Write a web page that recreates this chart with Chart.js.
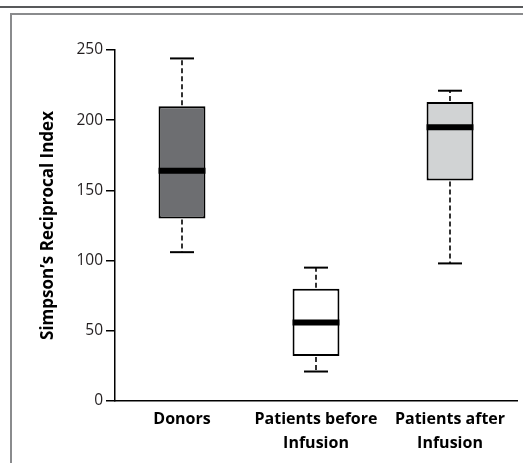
<!DOCTYPE html>
<html>
<head>
<meta charset="utf-8">
<script src="https://cdn.jsdelivr.net/npm/chart.js@4/dist/chart.umd.min.js"></script>
<style>
  html, body { margin: 0; padding: 0; background: #fff; }
  #wrap { position: relative; width: 523px; height: 463px; overflow: hidden; }
  #topline { position: absolute; left: 0; top: 6px; width: 523px; height: 2px; background: #58595b; }
  #frame { position: absolute; left: 10px; top: 13px; width: 600px; height: 600px;
           border-top: 2px solid #8a8b8d; border-left: 2px solid #8a8b8d; }
  canvas { position: absolute; left: 0; top: 0; }
</style>
</head>
<body>
<div id="wrap">
  <div id="topline"></div>
  <div id="frame"></div>
  <canvas id="box-chart" width="523" height="463"></canvas>
</div>
<script>
// groups on the x axis
const categories = [['Donors'], ['Patients before', 'Infusion'], ['Patients after', 'Infusion']];

// box plot statistics
const whiskerLow = [106, 21, 98];
const q1 = [130, 32, 157];
const median = [164, 56, 195];
const q3 = [210, 80, 213];
const whiskerHigh = [244, 95, 221];

// y axis ticks
const yTicks = [0, 50, 100, 150, 200, 250];

const boxColors = ['#6d6e71', '#ffffff', '#d1d3d4'];

// whiskers, caps and median drawn on top of the floating bars
const boxPlot = {
  id: 'boxPlot',
  afterDatasetsDraw(chart) {
    const ctx = chart.ctx;
    const y = chart.scales.y;
    const meta = chart.getDatasetMeta(0);

    function line(x1, y1, x2, y2) {
      ctx.beginPath();
      ctx.moveTo(x1, y1);
      ctx.lineTo(x2, y2);
      ctx.stroke();
    }

    meta.data.forEach((bar, i) => {
      const x = bar.x;
      const half = bar.width / 2;
      ctx.save();
      ctx.strokeStyle = '#000';

      // dashed whiskers
      ctx.lineWidth = 1.6;
      ctx.setLineDash([5, 3]);
      line(x, y.getPixelForValue(q3[i]) - 1, x, y.getPixelForValue(whiskerHigh[i]));
      line(x, y.getPixelForValue(q1[i]) + 1, x, y.getPixelForValue(whiskerLow[i]));

      // caps
      ctx.setLineDash([]);
      ctx.lineWidth = 2;
      line(x - 12, y.getPixelForValue(whiskerHigh[i]), x + 12, y.getPixelForValue(whiskerHigh[i]));
      line(x - 12, y.getPixelForValue(whiskerLow[i]), x + 12, y.getPixelForValue(whiskerLow[i]));

      // median
      ctx.lineWidth = 6;
      line(x - half, y.getPixelForValue(median[i]), x + half, y.getPixelForValue(median[i]));
      ctx.restore();
    });
  }
};

const ctx = document.getElementById('box-chart').getContext('2d');

new Chart(ctx, {
  type: 'bar',
  data: {
    labels: categories,
    datasets: [
      {
        data: q1.map((v, i) => [v, q3[i]]),
        backgroundColor: boxColors,
        borderColor: '#000',
        borderWidth: 2,
        borderSkipped: false,
        barPercentage: 0.35,
        categoryPercentage: 1
      }
    ]
  },
  options: {
    responsive: false,
    animation: false,
    layout: { padding: { top: 50, right: 6, bottom: 0, left: 0 } },
    plugins: {
      legend: { display: false },
      tooltip: { enabled: false }
    },
    scales: {
      x: {
        grid: { display: false, drawTicks: false },
        border: { display: true, color: '#000', width: 1.5 },
        ticks: {
          color: '#000',
          padding: 6,
          maxRotation: 0,
          autoSkip: false,
          font: { family: 'Open Sans', size: 16, weight: 'bold', lineHeight: 1.5 }
        },
        afterFit(scale) { scale.height = 62; }
      },
      y: {
        min: 0,
        max: 250,
        afterBuildTicks(scale) { scale.ticks = yTicks.map(v => ({ value: v })); },
        grid: { drawOnChartArea: false, drawTicks: true, tickLength: 9, color: '#000', lineWidth: 1.5 },
        border: { display: true, color: '#000', width: 1.5 },
        ticks: {
          color: '#231f20',
          padding: 3,
          font: { family: 'Open Sans', size: 15.5 }
        },
        title: {
          display: true,
          text: 'Simpson\u2019s Reciprocal Index',
          color: '#000',
          padding: { top: 38, bottom: 0 },
          font: { family: 'Open Sans', size: 17, weight: 'bold', lineHeight: 1.2 }
        },
        afterFit(scale) { scale.width = 115; }
      }
    }
  },
  plugins: [boxPlot]
});
</script>
</body>
</html>
